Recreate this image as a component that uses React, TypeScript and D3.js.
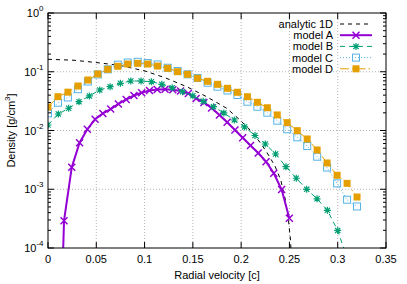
import React from 'react';
import * as d3 from 'd3';

// analytic 1D curve
const analyticV = [0, 0.0269, 0.0507, 0.0746, 0.1004, 0.1211, 0.1436, 0.1643, 0.185, 0.1988, 0.2074, 0.2177, 0.2264, 0.235, 0.241, 0.2454, 0.2488, 0.2511, 0.2521];
const analyticRho = [0.163, 0.157, 0.143, 0.128, 0.103, 0.0792, 0.0557, 0.0376, 0.0239, 0.0151, 0.011, 0.00689, 0.00431, 0.00249, 0.00144, 7.1e-4, 3.24e-4, 1.37e-4, 6.2e-5];

// model A (first point sits far below the frame)
const modelAV = [0.0085, 0.0166, 0.0246, 0.0327, 0.0407, 0.0488, 0.0568, 0.0649, 0.0729, 0.081, 0.089, 0.097, 0.1051, 0.1131, 0.1212, 0.1292, 0.1373, 0.1453, 0.1534, 0.1614, 0.1694, 0.1775, 0.1855, 0.1936, 0.2016, 0.2097, 0.2177, 0.2258, 0.2338, 0.2419, 0.2499];
const modelARho = [1e-8, 2.92e-4, 2.36e-3, 6.2e-3, 1.05e-2, 1.55e-2, 1.95e-2, 2.32e-2, 2.83e-2, 3.37e-2, 3.94e-2, 4.4e-2, 4.8e-2, 4.99e-2, 5.03e-2, 4.93e-2, 4.7e-2, 4.26e-2, 3.51e-2, 3.0e-2, 2.42e-2, 1.84e-2, 1.38e-2, 1.02e-2, 7.54e-3, 5.55e-3, 4.14e-3, 2.94e-3, 1.87e-3, 9.9e-4, 3.2e-4];

// model B (last point falls below the frame)
const modelBV = [0, 0.0107, 0.0214, 0.0321, 0.0429, 0.0536, 0.0643, 0.075, 0.0857, 0.0964, 0.1071, 0.1179, 0.1286, 0.1393, 0.15, 0.1607, 0.1714, 0.1821, 0.1929, 0.2036, 0.2143, 0.225, 0.2357, 0.2464, 0.2571, 0.2679, 0.2786, 0.2893, 0.3, 0.3107];
const modelBRho = [0.0124, 0.0191, 0.0239, 0.0309, 0.0387, 0.0489, 0.0557, 0.0636, 0.0696, 0.0696, 0.0677, 0.0611, 0.0535, 0.0458, 0.039, 0.0314, 0.0254, 0.0199, 0.0151, 0.0115, 0.00822, 0.00589, 0.00398, 0.00242, 0.00154, 9.98e-4, 6.88e-4, 4.38e-4, 1.99e-4, 6.0e-5];

// models C and D share one velocity grid
const modelCDV = [0, 0.0103, 0.0206, 0.031, 0.0413, 0.0516, 0.0619, 0.0723, 0.0826, 0.0929, 0.1032, 0.1135, 0.1239, 0.1342, 0.1445, 0.1548, 0.1652, 0.1755, 0.1858, 0.1961, 0.2065, 0.2168, 0.2271, 0.2374, 0.2477, 0.2581, 0.2684, 0.2787, 0.289, 0.2994, 0.3097, 0.32];
const modelCRho = [0.0196, 0.0297, 0.0365, 0.0505, 0.0682, 0.0898, 0.11, 0.132, 0.1437, 0.1477, 0.141, 0.133, 0.117, 0.103, 0.0905, 0.0783, 0.0651, 0.0557, 0.048, 0.0402, 0.0309, 0.0254, 0.0201, 0.0147, 0.0105, 0.00766, 0.00544, 0.00358, 0.00234, 0.00126, 6.64e-4, 5.09e-4];
const modelDRho = [0.0251, 0.0376, 0.0449, 0.0572, 0.0724, 0.0916, 0.11, 0.124, 0.1355, 0.139, 0.1355, 0.125, 0.1145, 0.1002, 0.0905, 0.0774, 0.0688, 0.0611, 0.0523, 0.0447, 0.0376, 0.0302, 0.0244, 0.0184, 0.0136, 0.00993, 0.00717, 0.00466, 0.0028, 0.00173, 0.00126, 7.38e-4];

const xTicks = [0, 0.05, 0.1, 0.15, 0.2, 0.25, 0.3, 0.35];
const xTickLabels = ['0', '0.05', '0.1', '0.15', '0.2', '0.25', '0.3', '0.35'];
const yTicks = [1, 0.1, 0.01, 0.001, 0.0001];
const yTickExps = ['0', '-1', '-2', '-3', '-4'];

const W = 407;
const H = 284;
const m = { left: 48, right: 21, top: 13, bottom: 36 };
const font = 'Liberation Sans, Arial, sans-serif';

type Series = {
  name: string;
  v: number[];
  rho: number[];
  color: string;
  width: number;
  dash?: string;
  marker?: 'x' | 'star' | 'open' | 'filled';
};

const series: Series[] = [
  { name: 'analytic 1D', v: analyticV, rho: analyticRho, color: '#000000', width: 1, dash: '4,4' },
  { name: 'model A', v: modelAV, rho: modelARho, color: '#9400d3', width: 2, marker: 'x' },
  { name: 'model B', v: modelBV, rho: modelBRho, color: '#009e73', width: 1, dash: '5,4', marker: 'star' },
  { name: 'model C', v: modelCDV, rho: modelCRho, color: '#56b4e9', width: 1, dash: '1,2', marker: 'open' },
  { name: 'model D', v: modelCDV, rho: modelDRho, color: '#e69f00', width: 1, dash: '9,3,1.5,3', marker: 'filled' },
];

function Marker({ kind, x, y, color }: { kind: string; x: number; y: number; color: string }) {
  const s = 3.5;
  if (kind === 'x')
    return <path d={`M${x - s},${y - s}L${x + s},${y + s}M${x - s},${y + s}L${x + s},${y - s}`} stroke={color} strokeWidth={1.5} fill="none" />;
  if (kind === 'star')
    return (
      <path
        d={`M${x - s},${y}L${x + s},${y}M${x},${y - s}L${x},${y + s}M${x - 2.6},${y - 2.6}L${x + 2.6},${y + 2.6}M${x - 2.6},${y + 2.6}L${x + 2.6},${y - 2.6}`}
        stroke={color}
        strokeWidth={1.2}
        fill="none"
      />
    );
  if (kind === 'open') return <rect x={x - s} y={y - s} width={2 * s} height={2 * s} fill="none" stroke={color} strokeWidth={1} />;
  return <rect x={x - s} y={y - s} width={2 * s} height={2 * s} fill={color} />;
}

export default function App() {
  const x = d3.scaleLinear().domain([0, 0.35]).range([m.left, W - m.right]);
  const y = d3.scaleLog().domain([1e-4, 1]).range([H - m.bottom, m.top]);
  const [x0, x1] = x.range();
  const [y0, y1] = y.range();

  const line = d3
    .line<[number, number]>()
    .x(d => x(d[0]))
    .y(d => y(d[1]));

  const minor: number[] = [];
  for (let e = -4; e < 0; e++) for (let k = 2; k <= 9; k++) minor.push(k * Math.pow(10, e));

  return (
    <svg width={W} height={H} style={{ position: 'absolute', left: 0, top: 0 }} fontFamily={font}>
      <rect width={W} height={H} fill="#fff" />
      <defs>
        <clipPath id="plot">
          <rect x={x0} y={y1} width={x1 - x0} height={y0 - y1} />
        </clipPath>
      </defs>

      {/* grid */}
      <g stroke="#a0a0a0" strokeWidth={0.8} strokeDasharray="1,2">
        {xTicks.slice(1, -1).map(t => (
          <line key={t} x1={x(t)} x2={x(t)} y1={y0} y2={y1} />
        ))}
        {yTicks.slice(1, -1).map(t => (
          <line key={t} x1={x0} x2={x1} y1={y(t)} y2={y(t)} />
        ))}
      </g>

      {/* ticks */}
      <g stroke="#000" strokeWidth={1}>
        {xTicks.map(t => (
          <g key={t}>
            <line x1={x(t)} x2={x(t)} y1={y0} y2={y0 - 6} />
            <line x1={x(t)} x2={x(t)} y1={y1} y2={y1 + 6} />
          </g>
        ))}
        {yTicks.map(t => (
          <g key={t}>
            <line x1={x0} x2={x0 + 6} y1={y(t)} y2={y(t)} />
            <line x1={x1} x2={x1 - 6} y1={y(t)} y2={y(t)} />
          </g>
        ))}
        {minor.map(t => (
          <g key={t}>
            <line x1={x0} x2={x0 + 3} y1={y(t)} y2={y(t)} />
            <line x1={x1} x2={x1 - 3} y1={y(t)} y2={y(t)} />
          </g>
        ))}
      </g>

      {/* series */}
      <g clipPath="url(#plot)">
        {series.map(s => {
          const pts = s.v.map((v, i) => [v, s.rho[i]] as [number, number]);
          return (
            <g key={s.name}>
              <path d={line(pts) || ''} fill="none" stroke={s.color} strokeWidth={s.width} strokeDasharray={s.dash} />
              {s.marker &&
                pts
                  .filter(p => p[1] >= 1e-4)
                  .map((p, i) => <Marker key={i} kind={s.marker!} x={x(p[0])} y={y(p[1])} color={s.color} />)}
            </g>
          );
        })}
      </g>

      {/* frame */}
      <rect x={x0} y={y1} width={x1 - x0} height={y0 - y1} fill="none" stroke="#000" strokeWidth={1} />

      {/* tick labels */}
      <g fontSize={11} fill="#000">
        {xTicks.map((t, i) => (
          <text key={t} x={x(t)} y={y0 + 15} textAnchor="middle">
            {xTickLabels[i]}
          </text>
        ))}
        {yTicks.map((t, i) => (
          <text key={t} x={43.5} y={y(t) + 4} textAnchor="end">
            10
            <tspan fontSize={8} dy={-6}>
              {yTickExps[i]}
            </tspan>
          </text>
        ))}
      </g>

      {/* axis titles */}
      <text x={(x0 + x1) / 2} y={279} textAnchor="middle" fontSize={11}>
        Radial velocity [c]
      </text>
      <text transform={`translate(14.5,${(y0 + y1) / 2}) rotate(-90)`} textAnchor="middle" fontSize={11}>
        Density [g/cm<tspan fontSize={8} dy={-5}>3</tspan>
        <tspan dy={5}>]</tspan>
      </text>

      {/* legend */}
      <g fontSize={11}>
        {series.map((s, i) => {
          const ly = 24 + i * 11.2;
          return (
            <g key={s.name}>
              <text x={333} y={ly + 4} textAnchor="end">
                {s.name}
              </text>
              <line x1={340} x2={372} y1={ly} y2={ly} stroke={s.color} strokeWidth={s.width} strokeDasharray={s.dash} />
              {s.marker && <Marker kind={s.marker} x={356} y={ly} color={s.color} />}
            </g>
          );
        })}
      </g>
    </svg>
  );
}
